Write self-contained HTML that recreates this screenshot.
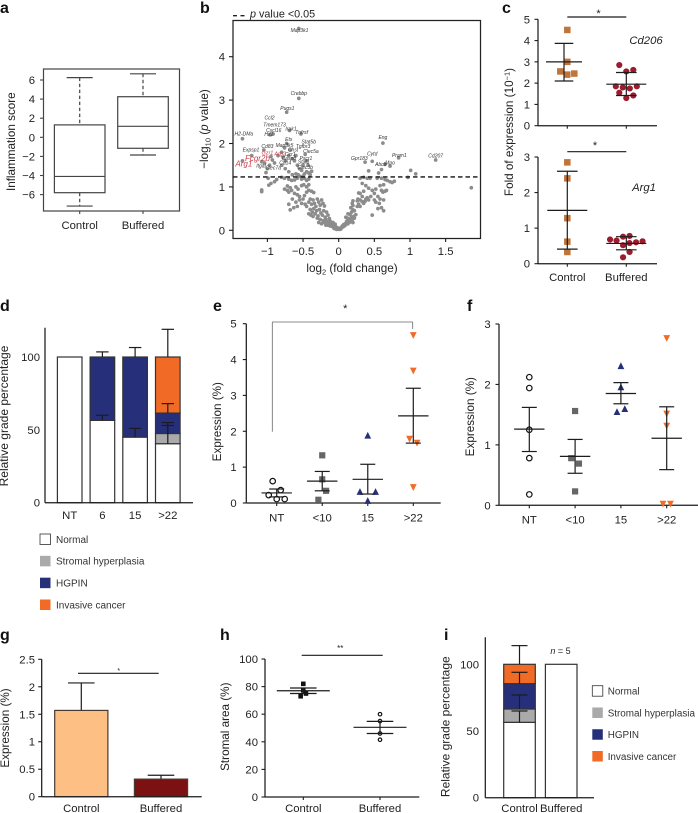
<!DOCTYPE html>
<html lang="en">
<head>
<meta charset="utf-8">
<title>Inflammation and expression figure</title>
<style>
html,body{margin:0;padding:0;background:#fff;}
svg{display:block;filter:blur(0.3px);}
text{font-family:"Liberation Sans",Arial,sans-serif;fill:#222;}
</style>
</head>
<body>
<svg id="figure" width="698" height="813" viewBox="0 0 698 813" xmlns="http://www.w3.org/2000/svg"></svg>
<script>
/* ---------- Panel a ---------- */
const boxCategories = ['Control', 'Buffered'];
const boxLow = [-7.2, -1.85];
const boxQ1 = [-5.8, -1.15];
const boxMedian = [-4.1, 1.15];
const boxQ3 = [1.3, 4.25];
const boxHigh = [6.25, 6.65];
const boxTicks = [6, 4, 2, 0, -2, -4, -6];

/* ---------- Panel b ---------- */
const volcanoXTicks = [-1, -0.5, 0, 0.5, 1, 1.5];
const volcanoYTicks = [0, 1, 2, 3, 4];
const volcanoThreshold = 1.23;
const volcanoPoints = [
[-0.56,4.65],[-0.56,3.04],[-0.73,2.72],[-1.35,2.11],[-1.35,1.6],[-1.22,1.72],[-1.08,1.58],[-1.04,1.55],[-1.05,1.85],[-0.97,1.5],[-0.93,1.62],[-0.95,1.7],[-0.9,1.55],[-0.85,1.72],[-0.8,1.8],[-0.76,1.9],[-0.73,2.0],[-0.78,1.68],[-0.75,1.6],[-0.7,1.72],[-0.65,1.65],[-0.62,1.6],[-0.58,1.5],[-0.6,1.72],[-0.55,1.42],[-0.52,1.38],[-0.48,1.3],[-0.45,1.35],[-0.42,1.32],[-0.4,1.28],[-0.5,1.5],[-0.47,1.75],[-0.45,1.6],[-0.43,1.5],[-0.38,1.36],[-0.6,1.3],[-0.65,1.28],[-0.7,1.35],[-0.75,1.42],[-0.8,1.5],[-1.02,1.33],[-0.96,2.2],[-0.92,2.22],[-0.69,2.3],[-0.53,2.22],[-1,1.42],[-0.68,1.85],[-0.57,1.28],[-0.55,1.25],[-0.5,1.25],
[-1.08,0.93],[-1.08,0.89],[-0.98,1.04],[-0.95,1.08],[-0.9,1.12],[-0.87,1.17],[-0.99,1.2],[-0.8,1.22],[-0.76,1.2],[-0.7,1.18],[-0.66,1.15],[-0.62,1.16],[-0.58,1.2],[-0.52,1.18],[-0.48,1.2],[-0.45,1.15],[-0.42,1.18],[-0.72,1.02],[-0.68,0.98],[-0.76,0.95],[-0.72,0.92],[-0.7,0.88],[-0.66,0.92],[-0.6,1.0],[-0.57,0.95],[-0.52,1.03],[-0.49,1.05],[-0.45,1.0],[-0.42,1.05],[-0.62,0.85],[-0.58,0.82],[-0.55,0.78],[-0.65,0.72],[-0.6,0.65],[-0.7,0.6],[-0.68,0.47],[-0.63,0.52],[-0.58,0.55],[-0.55,0.7],[-0.52,0.62],[-0.5,0.72],[-0.48,0.8],[-0.45,0.88],[-0.42,0.92],[-0.38,0.9],[-0.35,0.87],[-0.47,0.6],[-0.45,0.55],[-0.42,0.65],[-0.4,0.72],[-0.38,0.6],[-0.36,0.7],[-0.34,0.62],[-0.32,0.55],[-0.3,0.72],[-0.28,0.65],[-0.26,0.58],[-0.24,0.7],[-0.22,0.62],[-0.2,0.56],[-0.4,0.48],[-0.37,0.42],[-0.35,0.5],[-0.33,0.38],[-0.31,0.45],[-0.29,0.33],[-0.27,0.48],[-0.25,0.4],[-0.23,0.35],[-0.21,0.45],[-0.19,0.3],[-0.17,0.42],[-0.15,0.35],[-0.13,0.27],[-0.42,0.38],[-0.39,0.35],[-0.36,0.32],[-0.3,0.28],[-0.26,0.25],[-0.22,0.22],[-0.2,0.18],[-0.18,0.25],[-0.16,0.2],[-0.14,0.16],[-0.12,0.21],[-0.1,0.14],[-0.08,0.18],[-0.06,0.1],[-0.05,0.14],[-0.04,0.08],[-0.03,0.05],[-0.02,0.06],[-0.01,0.03],[-0.12,0.1],[-0.09,0.09],[-0.07,0.06],[-0.15,0.12],[-0.24,0.15],[-0.28,0.18],[-0.11,0.17],[-0.06,0.04],[-0.03,0.02],[-0.18,0.12],
[0.01,0.02],[0.02,0.05],[0.03,0.03],[0.04,0.06],[0.05,0.1],[0.06,0.08],[0.07,0.13],[0.08,0.1],[0.09,0.15],[0.1,0.13],[0.11,0.2],[0.12,0.18],[0.13,0.15],[0.14,0.26],[0.15,0.22],[0.16,0.19],[0.17,0.27],[0.18,0.3],[0.19,0.25],[0.2,0.18],[0.21,0.32],[0.22,0.28],[0.12,0.28],[0.1,0.3],[0.13,0.38],[0.16,0.36],[0.18,0.42],[0.2,0.47],[0.22,0.45],[0.24,0.36],[0.26,0.55],[0.2,0.57],[0.17,0.52],[0.19,0.62],[0.2,0.68],[0.26,0.68],[0.28,0.6],[0.3,0.55],[0.27,0.72],[0.3,0.7],[0.33,0.66],[0.35,0.62],[0.37,0.67],[0.33,0.78],[0.3,0.85],[0.28,0.86],[0.38,0.72],[0.42,0.7],[0.35,0.9],[0.4,0.75],[0.47,0.35],[0.45,0.78],[0.5,0.7],[0.52,0.65],[0.5,0.85],[0.55,0.78],[0.58,0.72],[0.57,0.62],[0.55,0.5],[0.6,0.52],[0.63,0.45],[0.63,0.7],[0.62,0.88],[0.6,0.92],[0.65,0.9],[0.67,0.92],[0.52,0.95],[0.47,0.92],[0.42,0.97],[0.38,1.03],[0.33,1.08],[0.4,1.2],[0.3,1.2],[0.35,1.22],[0.44,1.2],[0.54,1.2],[0.6,1.2],[0.65,1.17],[0.68,1.15],[0.72,1.12],[0.75,1.1],[0.78,1.13],[0.58,1.03],[0.63,1.05],[0.97,1.22],[1.01,1.38],[1.08,1.3],[1.86,0.98],
[0.62,2.01],[0.47,1.59],[0.37,1.57],[0.42,1.37],[0.56,1.32],[0.6,1.4],[0.72,1.48],[0.65,1.52],[0.84,1.67],[1.36,1.62]
];
const geneNames = ['Map3k1','Crebbp','Pugs1','Ccl2','Tmem173','Cxcl16','Hif1','Irak1','Tnfrsf','H2-DMa','Ets','Stat5b','Expsp1','Cd83','Map3k5','Tgfbr3','Chst','Clec5a','Ccr1','Casp8','Pscr1','Itgal','Clec7a','Cd14','Clec3b','Stat1','Gpr183','Cytd','Eng','Pram1','Cd207','Abcb','Mpo'];
const geneFold = [-0.55,-0.56,-0.72,-0.97,-0.9,-0.91,-0.98,-0.67,-0.52,-1.33,-0.7,-0.42,-1.23,-1.0,-0.76,-0.5,-0.64,-0.39,-0.68,-0.7,-0.46,-1.09,-0.92,-0.75,-0.47,-0.49,0.29,0.47,0.62,0.85,1.36,0.59,0.72];
const genePValue = [4.57,3.12,2.77,2.55,2.39,2.26,2.17,2.3,2.22,2.19,2.06,2.0,1.82,1.9,1.92,1.9,1.81,1.78,1.71,1.62,1.62,1.45,1.4,1.52,1.41,1.54,1.62,1.72,2.1,1.69,1.68,1.48,1.52];
const redGeneNames = ['Arg1','Fcgr2b','Gzr1','Arg2'];
const redGeneFold = [-1.33,-1.14,-1.0,-0.82];
const redGenePValue = [1.47,1.6,1.75,1.72];
const redGeneEmphasis = [1, 1, 0, 0];

/* ---------- Panel c ---------- */
const cCategories = ['Control', 'Buffered'];
const cTicksTop = [0, 1, 2, 3, 4, 5];
const cTicksBottom = [0, 1, 2, 3];
const cd206Control = [[4.5],[3],[2.55,2.4,2.45]];
const cd206Buffered = [[2.85,2.55,2.62],[1.85,1.8,1.75,1.85],[1.55,1.3,1.42]];
const cd206Mean = [3.0, 1.95];
const cd206High = [3.87, 2.5];
const cd206Low = [2.1, 1.42];
const arg1Control = [[2.85],[2.4],[1.28],[0.62],[0.33]];
const arg1Buffered = [[0.68,0.65,0.76,0.78,0.6,0.63],[0.52,0.58],[0.18,0.33]];
const arg1Mean = [1.5, 0.57];
const arg1High = [2.6, 0.76];
const arg1Low = [0.41, 0.39];

/* ---------- Panel d ---------- */
const dCategories = ['NT', '6', '15', '>22'];
const dTicks = [0, 50, 100];
const dNormal = [100, 56.5, 45, 40.5];
const dStromal = [0, 0, 0, 7];
const dHgpin = [0, 43.5, 55, 14];
const dCancer = [0, 0, 0, 38.5];
const dNormalErr = [0, 3.5, 6, 12.5];
const dStromalErr = [0, 0, 0, 7.5];
const dHgpinErr = [0, 3.5, 6.5, 6.5];
const dCancerErr = [0, 0, 0, 19];
const gradeNames = ['Normal', 'Stromal hyperplasia', 'HGPIN', 'Invasive cancer'];

/* ---------- Panel e ---------- */
const eCategories = ['NT', '<10', '15', '>22'];
const eTicks = [0, 1, 2, 3, 4, 5];
const eNT = [[0.61,0.36],[0.22,0.11,0.11]];
const eLt10 = [[1.33],[0.66],[0.09,0.34]];
const e15 = [[1.89],[0.32,0.07,0.32]];
const eGt22 = [[4.67],[3.68],[1.78,1.67],[0.43]];
const eMean = [0.28, 0.61, 0.66, 2.43];
const eHigh = [0.39, 0.88, 1.08, 3.2];
const eLow = [0.17, 0.34, 0.25, 1.67];

/* ---------- Panel f ---------- */
const fCategories = ['NT', '<10', '15', '>22'];
const fTicks = [0, 1, 2, 3];
const fNT = [[2.12],[1.94],[1.25],[0.78],[0.18]];
const fLt10 = [[1.56],[0.78,0.69],[0.23]];
const f15 = [[2.31],[1.96],[1.55,1.6]];
const fGt22 = [[2.76],[1.51],[1.31],[0.02,0.02]];
const fMean = [1.26, 0.81, 1.85, 1.11];
const fHigh = [1.62, 1.09, 2.03, 1.63];
const fLow = [0.89, 0.53, 1.68, 0.59];

/* ---------- Panel g ---------- */
const gCategories = ['Control', 'Buffered'];
const gTickLabels = ['0', '0.5', '1', '1.5', '2', '2.5'];
const gTicks = [0, 0.5, 1, 1.5, 2, 2.5];
const gValues = [1.57, 0.32];
const gErrorTop = [2.07, 0.39];

/* ---------- Panel h ---------- */
const hCategories = ['Control', 'Buffered'];
const hTicks = [0, 20, 40, 60, 80, 100];
const hControl = [[82],[77.3],[73,75]];
const hBuffered = [[60],[55],[46],[41.5]];
const hMean = [77, 50.5];
const hHigh = [79, 54.8];
const hLow = [75, 46];

/* ---------- Panel i ---------- */
const iCategories = ['Control', 'Buffered'];
const iTicks = [0, 50, 100];
const iNormal = [56.5, 100];
const iStromal = [10, 0];
const iHgpin = [19, 0];
const iCancer = [14.5, 0];
const iNormalErr = [8.5, 0];
const iStromalErr = [10.5, 0];
const iHgpinErr = [8.5, 0];
const iCancerErr = [14, 0];

const NS = 'http://www.w3.org/2000/svg';
const root = document.getElementById('figure');
const INK = '#1c1c1c';
const NAVY = '#26307a';
const ORANGE = '#f26b26';
const GREY = '#aaaaaa';

function mk(parent, tag, attrs, name, interact) {
  const el = document.createElementNS(NS, tag);
  for (const k in attrs) el.setAttribute(k, attrs[k]);
  
  
  parent.appendChild(el);
  return el;
}
function group(parent, name) { return mk(parent, 'g', {}, name); }
function line(p, x1, y1, x2, y2, name, w, color, extra) {
  return mk(p, 'line', Object.assign({x1, y1, x2, y2, stroke: color || INK, 'stroke-width': w || 1.1}, extra || {}), name);
}
function rect(p, x, y, w, h, fill, name, stroke, sw) {
  return mk(p, 'rect', {x, y, width: w, height: h, fill, stroke: stroke || 'none', 'stroke-width': sw || 0}, name);
}
function text(p, x, y, s, name, opts) {
  const o = opts || {};
  const attrs = {x, y, 'font-size': o.size || 11.3, 'text-anchor': o.anchor || 'middle'};
  if (o.fill) attrs.style = 'fill:' + o.fill;
  if (o.italic) attrs['font-style'] = 'italic';
  if (o.bold) attrs['font-weight'] = 'bold';
  if (o.rotate) attrs.transform = 'rotate(' + o.rotate + ' ' + x + ' ' + y + ')';
  const t = mk(p, 'text', attrs, name);
  t.textContent = s;
  return t;
}
function scale(d0, d1, r0, r1) { return v => r0 + (v - d0) * (r1 - r0) / (d1 - d0); }

function yAxis(p, x, yS, ticks, top, bottom, labelEnd, tickLen, labels) {
  const g = group(p, 'y-axis');
  line(g, x, top, x, bottom, 'y-axis-line', 1.25);
  ticks.forEach((v, i) => {
    const y = yS(v);
    line(g, x - tickLen, y, x, y, 'y-tick', 1.1);
    text(g, labelEnd, y + 4, labels ? labels[i] : String(v).replace('-', '\u2212'), 'y-tick-label', {anchor: 'end'});
  });
  return g;
}
function xCats(p, xS, cats, y, baseline, x0, x1, tickLen) {
  const g = group(p, 'x-axis');
  if (x0 !== null) line(g, x0, y, x1, y, 'x-axis-line', 1.25);
  cats.forEach((c, i) => {
    if (tickLen) line(g, xS(i), y, xS(i), y + tickLen, 'x-tick', 1.1);
    text(g, xS(i), baseline, c, 'x-tick-label');
  });
  return g;
}
function yTitle(p, x, y, s, size) {
  return text(p, x, y, s, 'y-axis-title', {rotate: -90, size: size || 11.7});
}
function letter(x, y, s) {
  text(root, x, y, s, 'panel-label-' + s, {bold: true, size: 16, anchor: 'start', fill: '#111'});
}
function marker(p, kind, x, y, size, color) {
  if (kind === 'square') return rect(p, x - size / 2, y - size / 2, size, size, color, 'square-point');
  if (kind === 'dot') return mk(p, 'circle', {cx: x, cy: y, r: size / 2, fill: color}, 'dot-point');
  if (kind === 'ring') return mk(p, 'circle', {cx: x, cy: y, r: size / 2, fill: 'none', stroke: color, 'stroke-width': 1.2}, 'ring-point');
  const s = size / 2;
  const pts = kind === 'up'
    ? [[x - s, y + s], [x + s, y + s], [x, y - s]]
    : [[x - s, y - s], [x + s, y - s], [x, y + s]];
  return mk(p, 'polygon', {points: pts.map(a => a.join(',')).join(' '), fill: color}, kind === 'up' ? 'triangle-point' : 'inverted-triangle-point');
}
function swarm(p, rows, cx, yS, spacing, kind, size, color) {
  rows.forEach(row => {
    row.forEach((v, i) => {
      marker(p, kind, cx + (i - (row.length - 1) / 2) * spacing, yS(v), size, color);
    });
  });
}
function meanError(p, cx, yS, mean, hi, lo, meanHalf, capHalf, w) {
  const g = group(p, 'mean-and-error');
  const sw = w || 1.2;
  line(g, cx, yS(hi), cx, yS(lo), 'error-stem', sw);
  line(g, cx - capHalf, yS(hi), cx + capHalf, yS(hi), 'error-cap-high', sw);
  line(g, cx - capHalf, yS(lo), cx + capHalf, yS(lo), 'error-cap-low', sw);
  line(g, cx - meanHalf, yS(mean), cx + meanHalf, yS(mean), 'mean-line', sw);
}
function stacked(p, xS, yS, halfW, layers, capHalf) {
  const n = layers[0].values.length;
  for (let i = 0; i < n; i++) {
    const g = group(p, 'stacked-bar');
    let base = 0;
    const tops = [];
    layers.forEach(l => {
      const v = l.values[i];
      if (v > 0) {
        rect(g, xS(i) - halfW, yS(base + v), halfW * 2, yS(base) - yS(base + v), l.fill, l.name, '#333', 1.2);
      }
      base += v;
      tops.push(base);
    });
    layers.forEach((l, k) => {
      const e = l.err[i];
      if (e > 0) {
        const y = yS(tops[k]);
        const yTop = yS(tops[k] + e);
        line(g, xS(i), y, xS(i), yTop, 'error-stem', 1.2);
        line(g, xS(i) - capHalf, yTop, xS(i) + capHalf, yTop, 'error-cap', 1.2);
      }
    });
  }
}
function legend(p, x, tx, ys, h, size) {
  const fills = ['#fff', GREY, NAVY, ORANGE];
  gradeNames.forEach((nm, i) => {
    const g = group(p, 'legend-entry');
    rect(g, x, ys(i), h, h, fills[i], 'legend-swatch', i === 0 ? '#333' : 'none', i === 0 ? 0.8 : 0);
    text(g, tx, ys(i) + h / 2 + size * 0.36, nm, 'legend-label', {anchor: 'start', size, fill: '#333'});
  });
}

/* Panel a */
(function () {
  const p = group(root, 'panel-a-boxplot');
  letter(0, 13, 'a');
  const yS = scale(0, 6, 137.3, 80);
  const xS = scale(0, 1, 79.7, 143);
  rect(p, 43.5, 69, 136, 142, 'none', 'plot-frame', '#444', 1.2);
  const ax = group(p, 'y-axis');
  boxTicks.forEach(v => {
    line(ax, 40, yS(v), 43.5, yS(v), 'y-tick', 1.1, '#444');
    text(ax, 35, yS(v) + 4, String(v).replace('-', '\u2212'), 'y-tick-label');
  });
  ax.querySelectorAll('text').forEach(t => t.setAttribute('text-anchor', 'end'));
  boxCategories.forEach((c, i) => {
    const g = group(p, 'box-' + c.toLowerCase());
    const x = xS(i);
    const dash = {'stroke-dasharray': '3.5 2.5'};
    line(g, x, yS(boxHigh[i]), x, yS(boxQ3[i]), 'upper-whisker', 1.2, '#444', dash);
    line(g, x, yS(boxQ1[i]), x, yS(boxLow[i]), 'lower-whisker', 1.2, '#444', dash);
    line(g, x - 13, yS(boxHigh[i]), x + 13, yS(boxHigh[i]), 'upper-cap', 1.2, '#444');
    line(g, x - 13, yS(boxLow[i]), x + 13, yS(boxLow[i]), 'lower-cap', 1.2, '#444');
    rect(g, x - 25.3, yS(boxQ3[i]), 50.6, yS(boxQ1[i]) - yS(boxQ3[i]), '#fff', 'box-body', '#444', 1.2);
    line(g, x - 25.3, yS(boxMedian[i]), x + 25.3, yS(boxMedian[i]), 'median-line', 1.2, '#444');
    line(g, x, 211, x, 214, 'x-tick', 1.1, '#444');
    text(g, x, 229, c, 'x-tick-label');
  });
  yTitle(p, 15, 141.7, 'Inflammation score');
})();

/* Panel b */
(function () {
  const p = group(root, 'panel-b-volcano');
  letter(200, 13, 'b');
  const xS = scale(0, 1, 338.7, 410);
  const yS = scale(0, 4, 230.3, 56.7);
  rect(p, 233, 20.5, 247.5, 218, 'none', 'plot-frame', '#222', 1.25);
  const leg = group(p, 'threshold-legend');
  line(leg, 233, 15.7, 245, 15.7, 'legend-dash', 1.3, '#222', {'stroke-dasharray': '4 3.5'});
  const lt = text(leg, 250, 17.5, '', 'legend-label', {anchor: 'start', size: 10.8});
  const ip = mk(lt, 'tspan', {'font-style': 'italic'}, 'p-symbol');
  ip.textContent = 'p';
  const rest = mk(lt, 'tspan', {}, 'p-value-text');
  rest.textContent = ' value <0.05';
  const pts = group(p, 'volcano-points');
  volcanoPoints.forEach(d => {
    mk(pts, 'circle', {cx: xS(d[0]), cy: yS(d[1]), r: 1.85, fill: '#8c8c8c'}, 'gene-point');
  });
  line(p, 233, yS(volcanoThreshold), 480, yS(volcanoThreshold), 'significance-threshold', 1.3, '#111', {'stroke-dasharray': '4.5 3'});
  const labs = group(p, 'gene-labels');
  geneNames.forEach((g, i) => {
    text(labs, xS(geneFold[i]), yS(genePValue[i]), g, 'gene-label', {size: 5, italic: true, fill: '#333'});
  });
  redGeneNames.forEach((g, i) => {
    text(labs, xS(redGeneFold[i]), yS(redGenePValue[i]), g, 'highlighted-gene-label', {size: redGeneEmphasis[i] ? 8 : 5.5, italic: true, fill: '#c9404c'});
  });
  const ya = group(p, 'y-axis');
  volcanoYTicks.forEach(v => {
    line(ya, 229, yS(v), 233, yS(v), 'y-tick', 1.1);
    text(ya, 225, yS(v) + 4, String(v), 'y-tick-label', {anchor: 'end'});
  });
  const xa = group(p, 'x-axis');
  volcanoXTicks.forEach(v => {
    line(xa, xS(v), 238.5, xS(v), 242, 'x-tick', 1.1);
    text(xa, xS(v), 255, String(v).replace('-', '\u2212'), 'x-tick-label');
  });
  const xt = text(p, 352, 272, 'log', 'x-axis-title', {size: 11.7});
  const sub = mk(xt, 'tspan', {dy: 2.5, 'font-size': 7.5}, 'x-title-subscript');
  sub.textContent = '2';
  const xr = mk(xt, 'tspan', {dy: -2.5}, 'x-title-rest');
  xr.textContent = ' (fold change)';
  const yt = text(p, 208, 129, '\u2212log', 'y-axis-title', {rotate: -90, size: 11.7});
  const ys = mk(yt, 'tspan', {dy: 2.5, 'font-size': 7.5}, 'y-title-subscript');
  ys.textContent = '10';
  const yr = mk(yt, 'tspan', {dy: -2.5}, 'y-title-rest');
  yr.textContent = ' (';
  const yi = mk(yt, 'tspan', {'font-style': 'italic'}, 'y-title-p');
  yi.textContent = 'p';
  const ye = mk(yt, 'tspan', {}, 'y-title-end');
  ye.textContent = ' value)';
})();

/* Panel c */
(function () {
  const p = group(root, 'panel-c-scatter');
  letter(502, 13, 'c');
  const xS = scale(0, 1, 567.3, 626.3);
  const yTop = scale(0, 5, 125.7, 19.3);
  const yBot = scale(0, 3, 263.7, 157);
  const SQ = '#c1743a';
  const DOT = '#9b1c2e';
  const g1 = group(p, 'cd206-plot');
  yAxis(g1, 538, yTop, cTicksTop, 19.3, 125.7, 530, 3.5);
  xCats(g1, xS, ['', ''], 125.7, 131, 538, 657, 3);
  swarm(g1, cd206Control, xS(0), yTop, 7, 'square', 6.5, SQ);
  swarm(g1, cd206Buffered, xS(1), yTop, 7, 'dot', 6.2, DOT);
  meanError(g1, xS(0) - 3.3, yTop, cd206Mean[0], cd206High[0], cd206Low[0], 18, 9.3);
  meanError(g1, xS(1), yTop, cd206Mean[1], cd206High[1], cd206Low[1], 20, 10.3);
  line(g1, xS(0), 17, xS(1), 17, 'significance-bar', 1.2);
  text(g1, 598.5, 17, '*', 'significance-star', {size: 11});
  text(g1, 646, 44, 'Cd206', 'cd206-label', {italic: true});
  const g2 = group(p, 'arg1-plot');
  yAxis(g2, 538, yBot, cTicksBottom, 157, 263.7, 530, 3.5);
  xCats(g2, xS, cCategories, 263.7, 281, 538, 657, 3);
  swarm(g2, arg1Control, xS(0), yBot, 7, 'square', 6.5, SQ);
  swarm(g2, arg1Buffered, xS(1), yBot, 6.5, 'dot', 6.2, DOT);
  meanError(g2, xS(0), yBot, arg1Mean[0], arg1High[0], arg1Low[0], 20, 10.3);
  meanError(g2, xS(1), yBot, arg1Mean[1], arg1High[1], arg1Low[1], 20, 10.3);
  line(g2, xS(0), 151.7, xS(1), 151.7, 'significance-bar', 1.2);
  text(g2, 595, 149, '*', 'significance-star', {size: 11});
  text(g2, 644, 191, 'Arg1', 'arg1-label', {italic: true});
  const t = text(p, 513, 132, 'Fold of expression (10', 'y-axis-title', {rotate: -90, size: 11.7});
  const sup = mk(t, 'tspan', {dy: -3.5, 'font-size': 7.5}, 'y-title-exponent');
  sup.textContent = '\u22121';
  const end = mk(t, 'tspan', {dy: 3.5}, 'y-title-close');
  end.textContent = ')';
})();

/* Panel d */
(function () {
  const p = group(root, 'panel-d-stacked-bars');
  letter(0, 311, 'd');
  const yS = scale(0, 100, 502.7, 357);
  const xS = scale(0, 3, 69.7, 167.8);
  stacked(p, xS, yS, 12.3, [
    {values: dNormal, err: dNormalErr, fill: '#fff', name: 'normal-segment'},
    {values: dStromal, err: dStromalErr, fill: GREY, name: 'stromal-segment'},
    {values: dHgpin, err: dHgpinErr, fill: NAVY, name: 'hgpin-segment'},
    {values: dCancer, err: dCancerErr, fill: ORANGE, name: 'cancer-segment'}
  ], 6.2);
  yAxis(p, 45, yS, dTicks, 327.7, 502.7, 40, 0);
  xCats(p, xS, dCategories, 502.7, 519, 45, 193, 0);
  yTitle(p, 8, 416, 'Relative grade percentage', 12);
  const leg = group(p, 'legend');
  const ys = scale(0, 3, 534, 599.5);
  legend(leg, 40, 56, ys, 10.5, 10);
})();

/* Panel e */
(function () {
  const p = group(root, 'panel-e-scatter');
  letter(213, 311, 'e');
  const yS = scale(0, 5, 503, 323.7);
  const xS = scale(0, 3, 276.7, 413.3);
  line(p, 272.3, 431.7, 272.3, 322, 'bracket-left', 0.8, '#666');
  line(p, 272.3, 322, 412.7, 322, 'bracket-top', 0.8, '#666');
  line(p, 412.7, 322, 412.7, 329, 'bracket-right', 0.8, '#666');
  text(p, 345.3, 312, '*', 'significance-star', {size: 11});
  yAxis(p, 246.3, yS, eTicks, 323.7, 503, 236.7, 3.5);
  xCats(p, xS, eCategories, 503, 521.5, 246.3, 440.7, 3);
  swarm(p, eNT, xS(0), yS, 8, 'ring', 5.5, '#111');
  swarm(p, eLt10, xS(1), yS, 7.7, 'square', 6.2, '#666');
  swarm(p, e15, xS(2), yS, 7.8, 'up', 6.8, NAVY);
  swarm(p, eGt22, xS(3), yS, 7.5, 'down', 6.8, ORANGE);
  eCategories.forEach((c, i) => meanError(p, xS(i), yS, eMean[i], eHigh[i], eLow[i], 15.2, 7.5));
  yTitle(p, 221, 421.7, 'Expression (%)');
})();

/* Panel f */
(function () {
  const p = group(root, 'panel-f-scatter');
  letter(467, 311, 'f');
  const yS = scale(0, 3, 505.3, 324);
  const xS = scale(0, 3, 529.3, 666.7);
  yAxis(p, 499, yS, fTicks, 324, 505.3, 490.7, 3.5);
  xCats(p, xS, fCategories, 505.3, 523.5, 499, 698, 3);
  swarm(p, fNT, xS(0), yS, 8, 'ring', 5.5, '#111');
  swarm(p, fLt10, xS(1), yS, 7.7, 'square', 6.2, '#666');
  swarm(p, f15, xS(2), yS, 7.8, 'up', 6.8, NAVY);
  swarm(p, fGt22, xS(3), yS, 7.5, 'down', 6.8, ORANGE);
  fCategories.forEach((c, i) => meanError(p, xS(i), yS, fMean[i], fHigh[i], fLow[i], 15.2, 7.5));
  yTitle(p, 474, 416.7, 'Expression (%)');
})();

/* Panel g */
(function () {
  const p = group(root, 'panel-g-bars');
  letter(0, 640, 'g');
  const yS = scale(0, 2.5, 796.7, 659.3);
  const xS = scale(0, 1, 81.3, 161);
  gValues.forEach((v, i) => {
    const g = group(p, 'bar-' + gCategories[i].toLowerCase());
    line(g, xS(i), yS(v), xS(i), yS(gErrorTop[i]), 'error-stem', 1.2);
    line(g, xS(i) - 13.3, yS(gErrorTop[i]), xS(i) + 13.3, yS(gErrorTop[i]), 'error-cap', 1.2);
    rect(g, xS(i) - 26.6, yS(v), 53.2, yS(0) - yS(v), i === 0 ? '#fdbf84' : '#7c1113', 'bar', '#4a3a30', 1.2);
  });
  yAxis(p, 41.7, yS, gTicks, 659.3, 796.7, 35, 3.5, gTickLabels);
  xCats(p, xS, gCategories, 796.7, 812, 41.7, 201.7, 0);
  line(p, 78, 673.3, 158.7, 673.3, 'significance-bar', 1.2);
  text(p, 118.7, 673, '*', 'significance-star', {size: 7});
  yTitle(p, 9, 728, 'Expression (%)');
})();

/* Panel h */
(function () {
  const p = group(root, 'panel-h-scatter');
  letter(220, 640, 'h');
  const yS = scale(0, 100, 797, 659);
  const xS = scale(0, 1, 303.3, 380);
  yAxis(p, 265, yS, hTicks, 659, 797, 258, 3.5);
  xCats(p, xS, hCategories, 797, 812, 265, 419.3, 3);
  swarm(p, hControl, xS(0), yS, 5.3, 'square', 4.6, '#111');
  swarm(p, hBuffered, xS(1), yS, 0, 'ring', 3.5, '#111');
  hCategories.forEach((c, i) => meanError(p, xS(i), yS, hMean[i], hHigh[i], hLow[i], 26.5, 13.3));
  line(p, 301.7, 655.3, 382.7, 655.3, 'significance-bar', 1.2);
  text(p, 340.3, 651, '**', 'significance-star', {size: 8});
  yTitle(p, 229, 726.7, 'Stromal area (%)');
})();

/* Panel i */
(function () {
  const p = group(root, 'panel-i-stacked-bars');
  letter(444, 640, 'i');
  const yS = scale(0, 100, 797.7, 664.3);
  const xS = scale(0, 1, 519.5, 561.2);
  stacked(p, xS, yS, 15.8, [
    {values: iNormal, err: iNormalErr, fill: '#fff', name: 'normal-segment'},
    {values: iStromal, err: iStromalErr, fill: GREY, name: 'stromal-segment'},
    {values: iHgpin, err: iHgpinErr, fill: NAVY, name: 'hgpin-segment'},
    {values: iCancer, err: iCancerErr, fill: ORANGE, name: 'cancer-segment'}
  ], 8);
  yAxis(p, 485.3, yS, iTicks, 637.3, 797.7, 479, 0);
  xCats(p, xS, iCategories, 797.7, 812, 485.3, 594, 0);
  yTitle(p, 449.5, 726.7, 'Relative grade percentage', 12);
  const nl = text(p, 560.5, 654, '', 'sample-size-note', {size: 9});
  const ni = mk(nl, 'tspan', {'font-style': 'italic'}, 'n-symbol');
  ni.textContent = 'n';
  const nr = mk(nl, 'tspan', {}, 'n-value');
  nr.textContent = ' = 5';
  const leg = group(p, 'legend');
  const ys = scale(0, 3, 685.7, 751);
  legend(leg, 592.3, 607.7, ys, 10.5, 9.9);
})();
</script>
</body>
</html>
